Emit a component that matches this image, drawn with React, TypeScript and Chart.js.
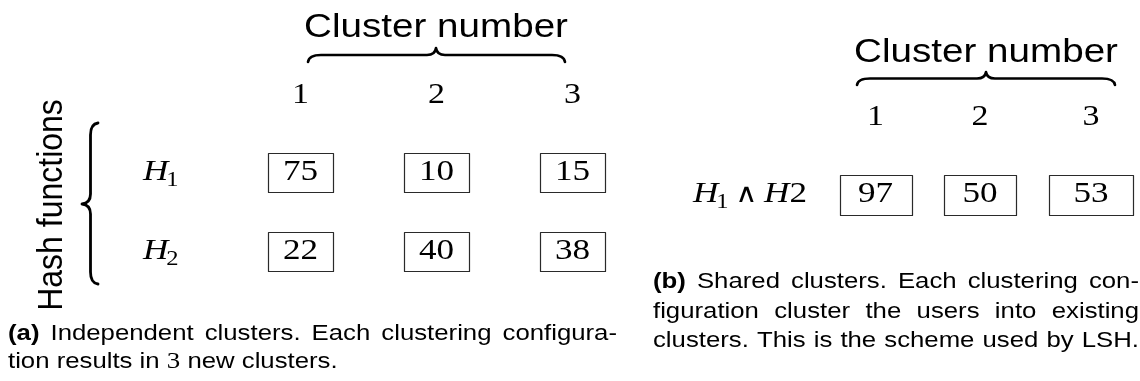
import React, { useEffect, useRef } from 'react';
import { Chart, registerables } from 'chart.js';

Chart.register(...registerables);

// ---------------- data ----------------
const CLUSTER_NUMBERS = ['1', '2', '3'];
const HASH_FUNCTION_SUBSCRIPTS = ['1', '2'];
const INDEPENDENT_H1 = [75, 10, 15];
const INDEPENDENT_H2 = [22, 40, 38];
const SHARED_H1_AND_H2 = [97, 50, 53];
const COLUMN_TITLE = 'Cluster number';
const ROW_TITLE = 'Hash functions';
const CAPTION_A_LINE1 = ['Independent', 'clusters.', 'Each', 'clustering', 'configura-'];
const CAPTION_A_LINE2_BEFORE = ['tion', 'results', 'in'];
const CAPTION_A_NUMBER = '3';
const CAPTION_A_LINE2_AFTER = ['new', 'clusters.'];
const CAPTION_B_LINE1 = ['Shared', 'clusters.', 'Each', 'clustering', 'con-'];
const CAPTION_B_LINE2 = ['figuration', 'cluster', 'the', 'users', 'into', 'existing'];
const CAPTION_B_LINE3 = ['clusters.', 'This', 'is', 'the', 'scheme', 'used', 'by', 'LSH.'];

// ---------------- layout / style ----------------
const W = 1140;
const H = 381;
const SX = 1.17; // horizontal stretch of the original figure
const SANS = "'Liberation Sans', Arial, sans-serif";
const SERIF = "'Liberation Serif', 'DejaVu Serif', serif";
const INK = '#000';

const LEFT = {
  colX: [300.5, 436.5, 572.5],
  boxW: [65, 65, 65],
  rowTop: [153, 232],
  boxH: 39,
  numberBaseline: 103,
  titleX: 436,
  titleBaseline: 37,
  brace: { x0: 308, x1: 565, tipX: 436, tipY: 48, endY: 62 },
  labelX: 143,
  vbrace: { xEnd: 98, xTip: 82, y0: 123, y1: 284, tipY: 204 },
  rowTitle: { x: 62, y: 205 },
};

const RIGHT = {
  colX: [875.5, 980, 1091],
  boxW: [72, 72, 84],
  rowTop: 175,
  boxH: 40,
  numberBaseline: 125,
  titleX: 986,
  titleBaseline: 62,
  brace: { x0: 857, x1: 1115, tipX: 986, tipY: 72, endY: 85 },
  labelX: 693,
  labelRight: 807,
};

const CAPTION_A = { x0: 8, x1: 617, base1: 340, base2: 368 };
const CAPTION_B = { x0: 653, x1: 1139, base: [288, 318, 347] };

const F_TITLE = `33px ${SANS}`;
const F_ROWTITLE = `32px ${SANS}`;
const F_NUM = `29px ${SERIF}`;
const F_VAL = `30px ${SERIF}`;
const F_MATH_IT = `italic 30px ${SERIF}`;
const F_AND = `200 26px 'DejaVu Sans', 'DejaVu Serif', serif`;
const F_MATH = `30px ${SERIF}`;
const F_SUB = `21px ${SERIF}`;
const F_CAP = `22px ${SANS}`;
const F_CAP_B = `bold 22px ${SANS}`;
const F_CAP_SERIF = `23px ${SERIF}`;

type Run = [string, string];
type Word = Run[];

function text(ctx: CanvasRenderingContext2D, s: string, x: number, y: number, font: string, align: CanvasTextAlign = 'left', sx = SX) {
  ctx.save();
  ctx.translate(x, y);
  ctx.scale(sx, 1);
  ctx.font = font;
  ctx.textAlign = align;
  ctx.textBaseline = 'alphabetic';
  ctx.fillStyle = INK;
  ctx.fillText(s, 0, 0);
  ctx.restore();
}

function measure(ctx: CanvasRenderingContext2D, s: string, font: string) {
  ctx.save();
  ctx.font = font;
  const w = ctx.measureText(s).width * SX;
  ctx.restore();
  return w;
}

function wordWidth(ctx: CanvasRenderingContext2D, w: Word) {
  return w.reduce((a, [t, f]) => a + measure(ctx, t, f), 0);
}

function drawLine(ctx: CanvasRenderingContext2D, words: Word[], x0: number, x1: number | null, base: number) {
  const widths = words.map((w) => wordWidth(ctx, w));
  const total = widths.reduce((a, b) => a + b, 0);
  const natural = measure(ctx, ' ', F_CAP);
  const gap = x1 === null || words.length < 2 ? natural : (x1 - x0 - total) / (words.length - 1);
  let x = x0;
  words.forEach((w, i) => {
    let xx = x;
    w.forEach(([t, f]) => {
      text(ctx, t, xx, base, f);
      xx += measure(ctx, t, f);
    });
    x += widths[i] + gap;
  });
}

function hBrace(ctx: CanvasRenderingContext2D, x0: number, x1: number, xm: number, yTip: number, yEnd: number) {
  const yBar = (yTip + yEnd) / 2;
  const r = 13;
  const rt = 9;
  ctx.beginPath();
  ctx.moveTo(x0, yEnd);
  ctx.quadraticCurveTo(x0 + 1, yBar, x0 + r, yBar);
  ctx.lineTo(xm - rt, yBar);
  ctx.quadraticCurveTo(xm - 1, yBar, xm, yTip);
  ctx.quadraticCurveTo(xm + 1, yBar, xm + rt, yBar);
  ctx.lineTo(x1 - r, yBar);
  ctx.quadraticCurveTo(x1 - 1, yBar, x1, yEnd);
  ctx.stroke();
}

function vBrace(ctx: CanvasRenderingContext2D, xEnd: number, xTip: number, y0: number, y1: number, ym: number) {
  const xBar = (xEnd + xTip) / 2 + 0.5;
  const r = 12;
  const rt = 10;
  ctx.beginPath();
  ctx.moveTo(xEnd, y0);
  ctx.quadraticCurveTo(xBar, y0 + 1, xBar, y0 + r);
  ctx.lineTo(xBar, ym - rt);
  ctx.quadraticCurveTo(xBar, ym - 1, xTip, ym);
  ctx.quadraticCurveTo(xBar, ym + 1, xBar, ym + rt);
  ctx.lineTo(xBar, y1 - r);
  ctx.quadraticCurveTo(xBar, y1 - 1, xEnd, y1);
  ctx.stroke();
}

function drawBox(ctx: CanvasRenderingContext2D, cx: number, top: number, w: number, h: number, value: number) {
  const l = Math.round(cx - w / 2) + 0.5;
  const t = Math.round(top) + 0.5;
  ctx.save();
  ctx.strokeStyle = '#2a2a2a';
  ctx.lineWidth = 1.2;
  ctx.strokeRect(l, t, Math.round(w), Math.round(h));
  ctx.restore();
  text(ctx, String(value), cx, top + h * 0.5 + 7, F_VAL, 'center');
}

const diagramPlugin = {
  id: 'clusterDiagram',
  afterDraw(chart: any) {
    const ctx: CanvasRenderingContext2D = chart.ctx;
    const xs = chart.scales.x;
    const ys = chart.scales.y;
    const px = (v: number) => xs.getPixelForValue(v);
    const py = (v: number) => ys.getPixelForValue(v);

    ctx.save();
    ctx.strokeStyle = INK;
    ctx.lineCap = 'round';
    ctx.lineJoin = 'round';

    // ---------- panel (a) ----------
    text(ctx, COLUMN_TITLE, px(LEFT.titleX), py(LEFT.titleBaseline), F_TITLE, 'center');
    ctx.lineWidth = 2.6;
    hBrace(ctx, px(LEFT.brace.x0), px(LEFT.brace.x1), px(LEFT.brace.tipX), py(LEFT.brace.tipY), py(LEFT.brace.endY));
    CLUSTER_NUMBERS.forEach((n, i) => text(ctx, n, px(LEFT.colX[i]), py(LEFT.numberBaseline), F_NUM, 'center'));

    // row title (rotated)
    ctx.save();
    ctx.translate(px(LEFT.rowTitle.x), py(LEFT.rowTitle.y));
    ctx.rotate(-Math.PI / 2);
    ctx.scale(1, 1.1);
    ctx.font = F_ROWTITLE;
    ctx.textAlign = 'center';
    ctx.fillStyle = INK;
    ctx.fillText(ROW_TITLE, 0, 0);
    ctx.restore();

    ctx.lineWidth = 2.8;
    vBrace(ctx, px(LEFT.vbrace.xEnd), px(LEFT.vbrace.xTip), py(LEFT.vbrace.y0), py(LEFT.vbrace.y1), py(LEFT.vbrace.tipY));

    const rowsA = [INDEPENDENT_H1, INDEPENDENT_H2];
    rowsA.forEach((vals, r) => {
      const top = py(LEFT.rowTop[r]);
      const base = top + LEFT.boxH * 0.5 + 7;
      const hW = measure(ctx, 'H', F_MATH_IT);
      text(ctx, 'H', px(LEFT.labelX), base, F_MATH_IT);
      text(ctx, HASH_FUNCTION_SUBSCRIPTS[r], px(LEFT.labelX) + hW - 2, base + 6, F_SUB);
      vals.forEach((v, c) => drawBox(ctx, px(LEFT.colX[c]), top, LEFT.boxW[c], LEFT.boxH, v));
    });

    // ---------- panel (b) ----------
    text(ctx, COLUMN_TITLE, px(RIGHT.titleX), py(RIGHT.titleBaseline), F_TITLE, 'center');
    ctx.lineWidth = 2.6;
    hBrace(ctx, px(RIGHT.brace.x0), px(RIGHT.brace.x1), px(RIGHT.brace.tipX), py(RIGHT.brace.tipY), py(RIGHT.brace.endY));
    CLUSTER_NUMBERS.forEach((n, i) => text(ctx, n, px(RIGHT.colX[i]), py(RIGHT.numberBaseline), F_NUM, 'center'));

    const topB = py(RIGHT.rowTop);
    const baseB = topB + RIGHT.boxH * 0.5 + 7;
    {
      const wH = measure(ctx, 'H', F_MATH_IT);
      const wSub = measure(ctx, HASH_FUNCTION_SUBSCRIPTS[0], F_SUB);
      const wAnd = measure(ctx, '\u2227', F_AND);
      const w2 = measure(ctx, HASH_FUNCTION_SUBSCRIPTS[1], F_MATH);
      const x0 = px(RIGHT.labelX);
      const x1 = px(RIGHT.labelRight);
      const used = wH - 2 + wSub + wAnd + wH + w2;
      const g = (x1 - x0 - used) / 2;
      let x = x0;
      text(ctx, 'H', x, baseB, F_MATH_IT);
      x += wH - 2;
      text(ctx, HASH_FUNCTION_SUBSCRIPTS[0], x, baseB + 6, F_SUB);
      x += wSub + g;
      text(ctx, '\u2227', x, baseB, F_AND);
      x += wAnd + g;
      text(ctx, 'H', x, baseB, F_MATH_IT);
      x += wH;
      text(ctx, HASH_FUNCTION_SUBSCRIPTS[1], x, baseB, F_MATH);
    }
    SHARED_H1_AND_H2.forEach((v, c) => drawBox(ctx, px(RIGHT.colX[c]), topB, RIGHT.boxW[c], RIGHT.boxH, v));

    // ---------- captions ----------
    const plain = (arr: string[]): Word[] => arr.map((w) => [[w, F_CAP]] as Word);
    drawLine(ctx, [[['(a)', F_CAP_B]], ...plain(CAPTION_A_LINE1)], px(CAPTION_A.x0), px(CAPTION_A.x1), py(CAPTION_A.base1));
    drawLine(
      ctx,
      [...plain(CAPTION_A_LINE2_BEFORE), [[CAPTION_A_NUMBER, F_CAP_SERIF]], ...plain(CAPTION_A_LINE2_AFTER)],
      px(CAPTION_A.x0),
      null,
      py(CAPTION_A.base2)
    );
    drawLine(ctx, [[['(b)', F_CAP_B]], ...plain(CAPTION_B_LINE1)], px(CAPTION_B.x0), px(CAPTION_B.x1), py(CAPTION_B.base[0]));
    drawLine(ctx, plain(CAPTION_B_LINE2), px(CAPTION_B.x0), px(CAPTION_B.x1), py(CAPTION_B.base[1]));
    drawLine(ctx, plain(CAPTION_B_LINE3), px(CAPTION_B.x0), px(CAPTION_B.x1), py(CAPTION_B.base[2]));

    ctx.restore();
  },
};

export default function App() {
  const ref = useRef<HTMLCanvasElement | null>(null);
  useEffect(() => {
    if (!ref.current) return;
    const chart = new Chart(ref.current, {
      type: 'scatter',
      data: { datasets: [] },
      options: {
        responsive: false,
        animation: false,
        devicePixelRatio: 1,
        layout: { padding: 0 },
        plugins: { legend: { display: false }, tooltip: { enabled: false }, title: { display: false } },
        scales: {
          x: { type: 'linear', min: 0, max: W, display: false },
          y: { type: 'linear', min: 0, max: H, reverse: true, display: false },
        },
      },
      plugins: [diagramPlugin],
    } as any);
    return () => chart.destroy();
  }, []);
  return (
    <div style={{ position: 'absolute', left: 0, top: 0, width: W, height: H, background: '#fff' }}>
      <canvas ref={ref} width={W} height={H} style={{ display: 'block', width: W, height: H }} />
    </div>
  );
}
